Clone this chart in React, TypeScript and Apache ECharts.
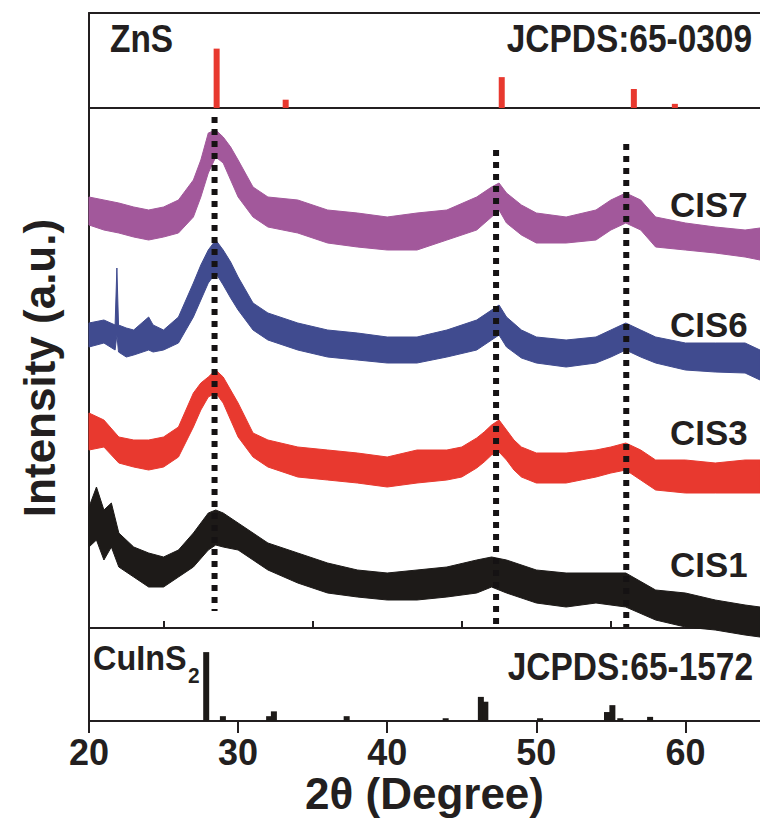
import React, { useEffect, useRef } from 'react';
import * as echarts from 'echarts';

const FONT = "'Liberation Sans', Arial, Helvetica, sans-serif";
const INK = '#231f20';

// x axis
const X_MIN = 20;
const X_MAX = 65;
const xTickLabels = [20, 30, 40, 50, 60];
const xMinorTicks = [25, 35, 45, 55, 65];

// Reference pattern: ZnS JCPDS 65-0309 (2θ, relative intensity)
const znsPos = [28.56, 33.19, 47.68, 56.54, 59.29];
const znsInt = [100, 14, 52, 32, 7];

// Reference pattern: CuInS2 JCPDS 65-1572
const cuinsPos = [27.86, 28.98, 32.08, 32.4, 37.28, 43.92, 46.28, 46.58, 50.25, 54.74, 55.1, 55.63, 57.63];
const cuinsInt = [100, 7, 7, 14, 7, 4, 35, 28, 4, 13, 23, 4, 6];

// Sample patterns: noise band read as upper / lower envelope (offset intensity, a.u.)
const cis7Deg = [20, 21, 22, 23, 24, 25, 26, 27, 27.5, 28, 28.5, 29, 29.5, 30, 31, 32, 34, 36, 38, 40, 42, 44, 46, 47, 47.5, 48, 49, 50, 52, 54, 55, 56, 57, 58, 60, 62, 64, 65];
const cis7Hi = [431, 428, 425, 421, 418, 421, 428, 448, 468, 495, 498, 491, 481, 468, 441, 431, 428, 418, 415, 411, 415, 418, 431, 441, 445, 435, 423, 415, 411, 418, 428, 435, 428, 411, 405, 401, 398, 400];
const cis7Lo = [403, 398, 395, 391, 388, 391, 395, 411, 431, 455, 471, 465, 448, 431, 411, 401, 395, 385, 381, 378, 378, 388, 398, 411, 418, 405, 393, 385, 385, 388, 398, 405, 398, 381, 378, 375, 371, 368];

const cis6Deg = [20, 21, 21.75, 21.87, 21.98, 22.5, 23, 24, 24.3, 25, 26, 27, 27.5, 28, 28.5, 29, 29.5, 30, 31, 32, 34, 36, 38, 40, 42, 44, 46, 47, 47.5, 48, 49, 50, 52, 54, 55, 56, 57, 58, 60, 62, 64, 65];
const cis6Hi = [305, 308, 303, 360, 303, 300, 298, 311, 303, 298, 311, 345, 363, 378, 388, 378, 366, 351, 325, 315, 305, 298, 295, 291, 291, 298, 308, 318, 323, 311, 298, 291, 288, 291, 298, 305, 298, 291, 285, 285, 285, 278];
const cis6Lo = [281, 285, 278, 293, 276, 271, 273, 278, 276, 278, 285, 311, 328, 345, 355, 343, 330, 318, 298, 288, 278, 271, 268, 265, 265, 271, 278, 288, 293, 281, 270, 265, 261, 265, 271, 278, 271, 265, 258, 256, 255, 248];

const cis3Deg = [20, 21, 22, 23, 24, 25, 26, 27, 27.5, 28, 28.5, 29, 29.5, 30, 31, 32, 34, 36, 38, 40, 42, 44, 45, 46, 46.5, 47, 47.5, 48, 48.5, 49, 50, 52, 54, 55, 56, 57, 58, 60, 62, 64, 65];
const cis3Hi = [215, 208, 191, 188, 188, 191, 201, 235, 245, 251, 258, 251, 238, 225, 195, 188, 181, 178, 175, 171, 178, 178, 181, 190, 196, 203, 208, 198, 188, 181, 175, 175, 178, 181, 185, 178, 168, 168, 165, 168, 168];
const cis3Lo = [178, 181, 165, 161, 158, 161, 171, 201, 218, 231, 235, 225, 208, 191, 171, 161, 151, 148, 145, 141, 145, 148, 151, 160, 166, 173, 176, 168, 158, 151, 145, 145, 151, 155, 158, 148, 138, 135, 135, 135, 135];

const cis1Deg = [20, 20.5, 21, 21.5, 22, 23, 24, 25, 26, 27, 28, 28.5, 29, 30, 32, 34, 36, 38, 40, 42, 44, 46, 47, 48, 50, 52, 54, 56, 58, 60, 62, 64, 65];
const cis1Hi = [121, 141, 118, 125, 95, 81, 75, 71, 78, 95, 115, 118, 115, 105, 85, 75, 65, 58, 55, 58, 61, 68, 71, 68, 58, 55, 55, 55, 38, 35, 28, 23, 21];
const cis1Lo = [81, 88, 68, 81, 61, 51, 41, 41, 51, 61, 78, 83, 81, 78, 58, 45, 35, 31, 28, 28, 31, 35, 41, 35, 25, 21, 25, 21, 8, 1, -2, -7, -9];

const samples = [
  { name: 'CIS7', deg: cis7Deg, hi: cis7Hi, lo: cis7Lo, color: '#a2589b' },
  { name: 'CIS6', deg: cis6Deg, hi: cis6Hi, lo: cis6Lo, color: '#404b8f' },
  { name: 'CIS3', deg: cis3Deg, hi: cis3Hi, lo: cis3Lo, color: '#e8392f' },
  { name: 'CIS1', deg: cis1Deg, hi: cis1Hi, lo: cis1Lo, color: '#1d1a18' },
];

// Dotted guide lines: 2θ position, top and bottom intensity
const guidePos = [28.42, 47.3, 56.03];
const guideTop = [511, 478, 484];
const guideBottom = [17, 1, 1];

function buildOption() {
  const axisLine = { show: true, lineStyle: { color: INK, width: 2 } };
  const hiddenParts = {
    axisTick: { show: false },
    axisLabel: { show: false },
    splitLine: { show: false },
  };
  const grids = [
    { left: 89, right: 0, top: 13, height: 95 },
    { left: 89, right: 0, top: 108, height: 520 },
    { left: 89, right: 0, top: 628, height: 93 },
  ];
  const xAxis: any[] = [
    { type: 'value', gridIndex: 0, min: X_MIN, max: X_MAX, axisLine, ...hiddenParts },
    { type: 'value', gridIndex: 0, position: 'top', min: X_MIN, max: X_MAX, axisLine, ...hiddenParts },
    { type: 'value', gridIndex: 1, min: X_MIN, max: X_MAX, axisLine, ...hiddenParts },
    {
      type: 'value', gridIndex: 2, min: X_MIN, max: X_MAX, interval: 10,
      axisLine,
      axisTick: { show: true, length: 12, lineStyle: { color: INK, width: 2 }, customValues: xTickLabels },
      axisLabel: {
        show: true, customValues: xTickLabels, margin: 13,
        color: INK, fontFamily: FONT, fontWeight: 'bold', fontSize: 36,
      },
      splitLine: { show: false },
      name: '2θ (Degree)', nameLocation: 'middle', nameGap: 50,
      nameTextStyle: { color: INK, fontFamily: FONT, fontWeight: 'bold', fontSize: 44 },
    },
    {
      type: 'value', gridIndex: 2, min: X_MIN, max: X_MAX, interval: 5,
      axisLine: { show: false },
      axisTick: { show: true, length: 7, lineStyle: { color: INK, width: 2 }, customValues: xMinorTicks },
      axisLabel: { show: false },
      splitLine: { show: false },
    },
  ];
  const yAxis: any[] = [
    { type: 'value', gridIndex: 0, min: 0, max: 160, axisLine, ...hiddenParts },
    {
      type: 'value', gridIndex: 1, min: 0, max: 520, axisLine, ...hiddenParts,
      name: 'Intensity (a.u.)', nameLocation: 'middle', nameGap: 28, nameRotate: 90,
      nameTextStyle: { color: INK, fontFamily: FONT, fontWeight: 'bold', fontSize: 44 },
    },
    { type: 'value', gridIndex: 2, min: 0, max: 135, axisLine, ...hiddenParts },
  ];

  const series: any[] = [];
  series.push({
    type: 'bar', name: 'ZnS', xAxisIndex: 0, yAxisIndex: 0, barWidth: 6,
    itemStyle: { color: '#e8392f' },
    data: znsPos.map((p, i) => [p, znsInt[i]]),
  });
  samples.forEach((s) => {
    series.push({
      type: 'custom', name: s.name, xAxisIndex: 2, yAxisIndex: 1, clip: false,
      encode: { x: 0, y: [1, 2] },
      data: s.deg.map((d, i) => [d, s.lo[i], s.hi[i]]),
      renderItem: (params: any, api: any) => {
        if (params.dataIndex !== 0) return null;
        const upper = s.deg.map((d, i) => api.coord([d, s.hi[i]]));
        const lower = s.deg.map((d, i) => api.coord([d, s.lo[i]])).reverse();
        return {
          type: 'polygon',
          shape: { points: upper.concat(lower) },
          style: { fill: s.color, stroke: s.color, lineWidth: 1, lineJoin: 'miter' },
        };
      },
    });
  });
  guidePos.forEach((p, i) => {
    series.push({
      type: 'line', name: 'guide' + i, xAxisIndex: 2, yAxisIndex: 1, z: 10,
      symbol: 'none', silent: true,
      lineStyle: { color: '#151213', width: 6, type: [6, 6], cap: 'butt' },
      data: [[p, guideTop[i]], [p, guideBottom[i]]],
    });
  });
  series.push({
    type: 'bar', name: 'CuInS2', xAxisIndex: 3, yAxisIndex: 2, barWidth: 6,
    itemStyle: { color: '#1d1a18' },
    data: cuinsPos.map((p, i) => [p, cuinsInt[i]]),
  });

  const txt = (text: string, x: number, y: number, size: number, sx: number, align = 'left') => ({
    type: 'text', x, y, scaleX: sx, scaleY: 1, z: 20,
    style: {
      text, fill: INK, font: `bold ${size}px ${FONT}`,
      textAlign: align, textVerticalAlign: 'middle',
    },
  });

  const graphic = [
    txt('ZnS', 110, 39, 38, 0.88),
    txt('JCPDS:65-0309', 752, 39, 38, 0.88, 'right'),
    txt('CuInS', 93, 657, 36, 0.9),
    txt('2', 188, 676, 22, 0.95),
    txt('JCPDS:65-1572', 753, 667, 38, 0.88, 'right'),
    txt('CIS7', 670, 205, 36, 0.97),
    txt('CIS6', 670, 325, 36, 0.97),
    txt('CIS3', 670, 433, 36, 0.97),
    txt('CIS1', 670, 565, 36, 0.97),
  ];

  return {
    animation: false,
    backgroundColor: '#ffffff',
    grid: grids,
    xAxis,
    yAxis,
    series,
    graphic,
  };
}

export default function App() {
  const ref = useRef<HTMLDivElement>(null);
  useEffect(() => {
    if (!ref.current) return;
    const chart = echarts.init(ref.current, null, { renderer: 'svg' });
    chart.setOption(buildOption() as any);
    return () => chart.dispose();
  }, []);
  return (
    <div
      ref={ref}
      style={{ position: 'absolute', left: 0, top: 0, width: 760, height: 824 }}
    />
  );
}
